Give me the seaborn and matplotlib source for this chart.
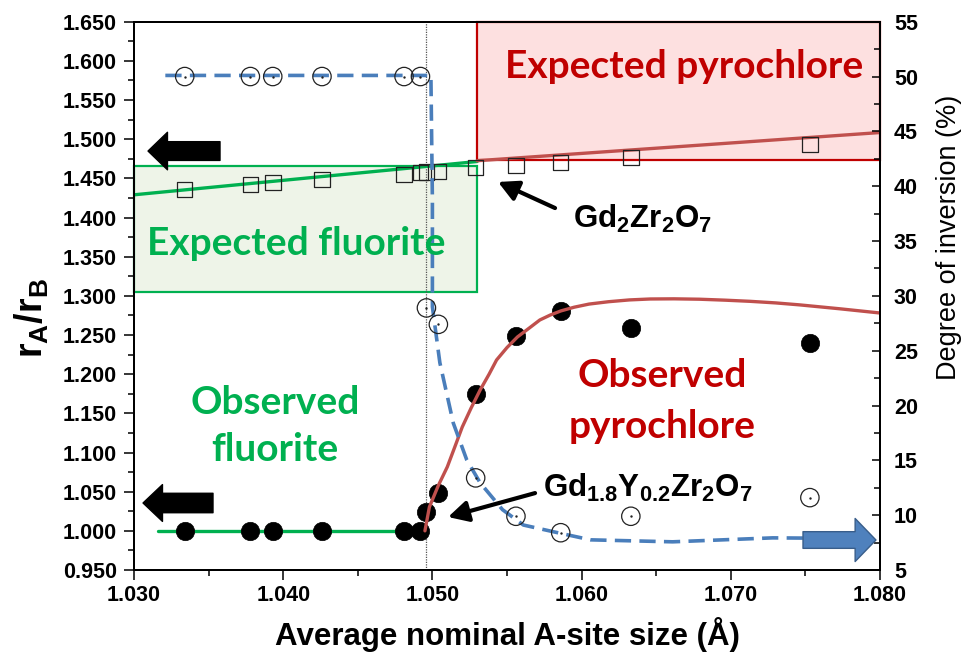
import matplotlib
matplotlib.use("Agg")
import matplotlib.pyplot as plt
import seaborn as sns
import numpy as np
import pandas as pd
from matplotlib.patches import Rectangle
from matplotlib.ticker import MultipleLocator, FormatStrFormatter

# ---------------- data ----------------
a_site_size = [1.0334, 1.0378, 1.0393, 1.0426, 1.0481, 1.0492, 1.0496,
               1.0504, 1.0529, 1.0556, 1.0586, 1.0633, 1.0753]
ra_rb_ratio = [1.4356, 1.4420, 1.4446, 1.4484, 1.4548, 1.4573, 1.4578,
               1.4586, 1.4637, 1.4662, 1.4701, 1.4765, 1.4931]
observed_phase = [1.000, 1.000, 1.000, 1.000, 1.000, 1.000, 1.024,
                  1.048, 1.175, 1.249, 1.281, 1.259, 1.240]
inversion_pct = [50.0, 50.0, 50.0, 50.0, 50.0, 50.0, 28.9,
                 27.4, 13.4, 9.9, 8.4, 9.9, 11.6]

fluorite_fit_x = [1.030, 1.053]
fluorite_fit_y = [1.429, 1.4715]
pyro_fit_x = [1.053, 1.080]
pyro_fit_y = [1.4725, 1.5085]

fluorite_base_x = [1.0316, 1.0495]
fluorite_base_y = [1.000, 1.000]

pyro_curve_x = [1.0495, 1.0498, 1.0504, 1.0510, 1.0515, 1.0520, 1.0526, 1.0532,
                1.0538, 1.0543, 1.0550, 1.0557, 1.0565, 1.0572, 1.0579, 1.0586,
                1.0595, 1.0605, 1.0618, 1.0632, 1.0646, 1.0662, 1.0679, 1.0696,
                1.0713, 1.0730, 1.0746, 1.0773, 1.0800]
pyro_curve_y = [1.000, 1.0305, 1.058, 1.0817, 1.107, 1.1325, 1.157, 1.1798,
                1.200, 1.2181, 1.234, 1.2475, 1.259, 1.2692, 1.2755, 1.2807,
                1.2855, 1.2895, 1.2925, 1.2948, 1.2960, 1.2962, 1.2957, 1.2945,
                1.2930, 1.2910, 1.2885, 1.2835, 1.2781]

inv_curve_x = [1.0321, 1.0499, 1.0500, 1.0500, 1.0505, 1.0514, 1.0523, 1.0532,
               1.0547, 1.0561, 1.0584, 1.0606, 1.0661, 1.0728, 1.0760]
inv_curve_y = [50.1, 50.1, 38.7, 29.0, 23.9, 18.4, 15.05, 12.95,
               10.5, 9.1, 8.4, 7.75, 7.57, 7.93, 7.9]

gd18_size = 1.0496

x_ticks = [1.030, 1.040, 1.050, 1.060, 1.070, 1.080]

# ---------------- style ----------------
sns.set_theme(style="ticks")
plt.rcParams["font.family"] = ["Liberation Sans", "DejaVu Sans"]
plt.rcParams["mathtext.fontset"] = "custom"
plt.rcParams["mathtext.rm"] = "Liberation Sans"
plt.rcParams["mathtext.bf"] = "Liberation Sans:bold"
plt.rcParams["mathtext.it"] = "Liberation Sans:italic"
plt.rcParams["text.color"] = "black"
plt.rcParams["axes.labelcolor"] = "black"

GREEN = "#00b050"
DKRED = "#c00000"
FITRED = "#c0504d"
BLUE = "#4a7ebb"
ANNOT_FONT = ["Lato", "DejaVu Sans"]
ANNOT_SIZE = 28

W, H = 971, 668
fig = plt.figure(figsize=(W / 100, H / 100), dpi=100)
L, R, T, B = 134, 880, 21.7, 570
ax = fig.add_axes([L / W, 1 - B / H, (R - L) / W, (B - T) / H])
ax2 = ax.twinx()

ax.set_xlim(1.030, 1.080)
ax.set_ylim(0.950, 1.650)
ax2.set_ylim(5, 55)

# ---------------- region boxes ----------------
ax.add_patch(Rectangle((1.053, 1.4736), 0.027, 1.650 - 1.4736, facecolor="#fde0e0",
                       edgecolor=DKRED, linewidth=1.6, zorder=0.5, clip_on=False))
ax.add_patch(Rectangle((1.030, 1.3055), 0.023, 0.160, facecolor="#eef4e8",
                       edgecolor=GREEN, linewidth=1.6, zorder=0.5, clip_on=False))

ax.axvline(gd18_size, color="#555555", lw=0.9, ls=(0, (1, 1)), zorder=1)

# ---------------- left-axis series ----------------
sns.lineplot(x=fluorite_fit_x, y=fluorite_fit_y, ax=ax, color=GREEN, lw=2.4,
             sort=False, estimator=None, zorder=2)
sns.lineplot(x=pyro_fit_x, y=pyro_fit_y, ax=ax, color=FITRED, lw=2.4,
             sort=False, estimator=None, zorder=2)
sns.lineplot(x=fluorite_base_x, y=fluorite_base_y, ax=ax, color=GREEN, lw=2.4,
             sort=False, estimator=None, zorder=2)

sns.scatterplot(x=a_site_size, y=ra_rb_ratio, ax=ax, marker="s", s=125,
                facecolor="none", edgecolor="#222222", linewidth=0.9, zorder=3)
sns.scatterplot(x=a_site_size, y=observed_phase, ax=ax, marker="o", s=175,
                color="black", edgecolor="black", linewidth=0.5, zorder=3)
sns.lineplot(x=pyro_curve_x, y=pyro_curve_y, ax=ax, color=FITRED, lw=2.4,
             sort=False, estimator=None, zorder=4)

# ---------------- right-axis series ----------------
sns.lineplot(x=inv_curve_x, y=inv_curve_y, ax=ax2, color=BLUE, lw=2.6,
             sort=False, estimator=None, linestyle=(0, (4.5, 2.3)), zorder=2)
sns.scatterplot(x=a_site_size, y=inversion_pct, ax=ax2, marker="o", s=175,
                facecolor="none", edgecolor="#222222", linewidth=0.9, zorder=3)
sns.scatterplot(x=a_site_size, y=inversion_pct, ax=ax2, marker="o", s=3,
                color="#222222", linewidth=0, zorder=3)

# ---------------- axes styling ----------------
for a in (ax, ax2):
    for sp in a.spines.values():
        sp.set_visible(True)
        sp.set_linewidth(1.4)
        sp.set_color("black")

ax.set_xticks(x_ticks)
ax.xaxis.set_minor_locator(MultipleLocator(0.005))
ax.yaxis.set_major_locator(MultipleLocator(0.050))
ax.yaxis.set_minor_locator(MultipleLocator(0.025))
ax.xaxis.set_major_formatter(FormatStrFormatter("%.3f"))
ax.yaxis.set_major_formatter(FormatStrFormatter("%.3f"))
ax2.yaxis.set_major_locator(MultipleLocator(5))
ax2.yaxis.set_minor_locator(MultipleLocator(2.5))

ax.tick_params(axis="both", which="major", direction="out", length=7.5, width=1.1,
               labelsize=15.5, pad=5, color="black", labelcolor="black")
ax.tick_params(axis="x", which="major", pad=3)
ax.tick_params(axis="both", which="minor", direction="out", length=4, width=1.1,
               color="black")
ax.tick_params(axis="y", right=False)
ax2.tick_params(axis="y", which="major", direction="in", length=6, width=1.1,
                labelsize=15.5, pad=10, color="black", labelcolor="black")
ax2.tick_params(axis="y", which="minor", direction="in", length=4, width=1.1,
                color="black")
for lab in ax.get_xticklabels() + ax.get_yticklabels() + ax2.get_yticklabels():
    lab.set_fontweight("bold")

ax.set_xlabel("Average nominal A-site size (Å)", fontsize=22.5, fontweight="bold",
              color="black")
ax.xaxis.set_label_coords(0.5, -0.085)
ax.set_ylabel("")
ax2.set_ylabel("")
fig.text(32 / W, 1 - 318 / H, r"$\mathbf{r_{A}/r_{B}}$", rotation=90,
         ha="center", va="center", fontsize=27, color="black")
fig.text(949 / W, 1 - 237 / H, "Degree of inversion (%)", rotation=90,
         ha="center", va="center", fontsize=19.5, color="black")

# ---------------- annotations ----------------
def label(x, y, s, color):
    ax2.text(x, y, s, transform=ax.transData, ha="center", va="baseline",
             color=color, fontsize=ANNOT_SIZE, fontweight="bold",
             family=ANNOT_FONT, zorder=6)

label(1.06686, 1.5781, "Expected pyrochlore", DKRED)
label(1.04086, 1.3521, "Expected fluorite", GREEN)
label(1.03945, 1.1490, "Observed", GREEN)
label(1.03945, 1.0890, "fluorite", GREEN)
label(1.06539, 1.1836, "Observed", DKRED)
label(1.06539, 1.1185, "pyrochlore", DKRED)

ax2.text(1.05942, 1.3865, r"$\mathbf{Gd_{2}Zr_{2}O_{7}}$", transform=ax.transData,
         ha="left", va="baseline", color="black", fontsize=22.5, zorder=6)
ax2.text(1.05741, 1.0431, r"$\mathbf{Gd_{1.8}Y_{0.2}Zr_{2}O_{7}}$",
         transform=ax.transData, ha="left", va="baseline", color="black",
         fontsize=22.5, zorder=6)

thin = dict(arrowstyle="-|>,head_length=0.8,head_width=0.42", color="black",
            lw=3, mutation_scale=15, shrinkA=0, shrinkB=0)
ax2.annotate("", xy=(1.05440, 1.4454), xytext=(1.05822, 1.4121),
             xycoords=ax.transData, textcoords=ax.transData, arrowprops=thin,
             zorder=6)
ax2.annotate("", xy=(1.05105, 1.0176), xytext=(1.05688, 1.0482),
             xycoords=ax.transData, textcoords=ax.transData, arrowprops=thin,
             zorder=6)

def block_arrow(tail, tip, fc, ec, hl, hw, tw):
    ax2.annotate("", xy=tip, xytext=tail, xycoords="axes fraction",
                 textcoords="axes fraction", annotation_clip=False,
                 arrowprops=dict(arrowstyle=f"simple,head_length={hl},head_width={hw},tail_width={tw}",
                                 fc=fc, ec=ec, lw=1.0, mutation_scale=1,
                                 shrinkA=0, shrinkB=0), zorder=7)

block_arrow((0.1153, 0.7641), (0.0188, 0.7641), "black", "black", 14, 27, 13.5)
block_arrow((0.1059, 0.1222), (0.0121, 0.1222), "black", "black", 14, 26.5, 14)
block_arrow((0.8968, 0.0547), (0.9946, 0.0547), "#4f81bd", "#385d8a", 15, 31, 12)

fig.savefig("out.png", dpi=100)
